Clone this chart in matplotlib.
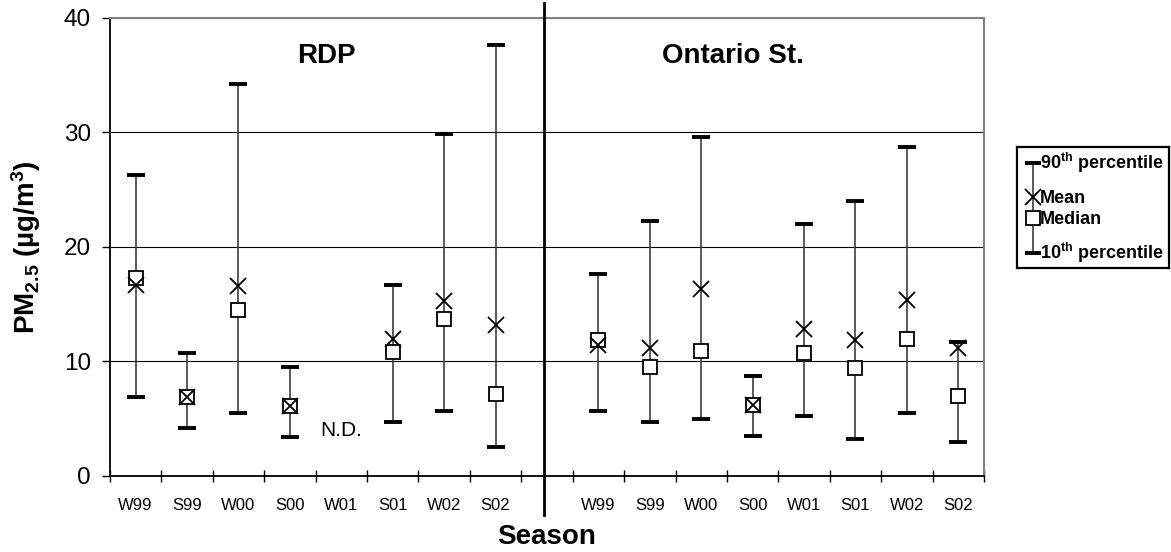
import numpy as np
import matplotlib.pyplot as plt

plt.rcParams['font.family'] = ['Liberation Sans', 'DejaVu Sans']
plt.rcParams['mathtext.fontset'] = 'custom'
plt.rcParams['mathtext.rm'] = 'Liberation Sans:bold'
plt.rcParams['mathtext.default'] = 'rm'

# Seasons (same for both sites)
seasons = ['W99', 'S99', 'W00', 'S00', 'W01', 'S01', 'W02', 'S02']

# RDP site (W01 = no data)
rdp_p90 = [26.3, 10.7, 34.2, 9.5, np.nan, 16.7, 29.9, 37.6]
rdp_p10 = [6.9, 4.2, 5.5, 3.4, np.nan, 4.7, 5.7, 2.5]
rdp_mean = [16.7, 6.9, 16.6, 6.1, np.nan, 12.0, 15.3, 13.2]
rdp_median = [17.3, 6.9, 14.5, 6.1, np.nan, 10.8, 13.7, 7.2]

# Ontario St. site
ont_p90 = [17.6, 22.3, 29.6, 8.7, 22.0, 24.0, 28.7, 11.7]
ont_p10 = [5.7, 4.7, 5.0, 3.5, 5.2, 3.2, 5.5, 3.0]
ont_mean = [11.4, 11.2, 16.3, 6.2, 12.8, 11.9, 15.4, 11.2]
ont_median = [11.9, 9.5, 10.9, 6.2, 10.7, 9.4, 12.0, 7.0]

nd_value = 4.0  # position of the "N.D." note

fig = plt.figure(figsize=(11.71, 5.52), dpi=100)
ax = fig.add_axes([0.0939, 0.1377, 0.7464, 0.8297])

n = len(seasons)
x_rdp = np.arange(n)
x_ont = np.arange(n) + n + 1
gap = n  # empty slot between the two sites


def draw_site(x, p10, p90, mean, median):
    ax.vlines(x, p10, p90, color='#404040', lw=1.2, zorder=3)
    ax.plot(x, p90, ls='none', marker='_', ms=12.5, mew=2.8, color='black', zorder=4)
    ax.plot(x, p10, ls='none', marker='_', ms=12.5, mew=2.8, color='black', zorder=4)
    ax.plot(x, median, ls='none', marker='s', ms=10, mfc='white', mec='black', mew=1.3, zorder=5)
    ax.plot(x, mean, ls='none', marker='x', ms=11, mec='black', mew=1.3, zorder=6)


draw_site(x_rdp, rdp_p10, rdp_p90, rdp_mean, rdp_median)
draw_site(x_ont, ont_p10, ont_p90, ont_mean, ont_median)

ax.set_xlim(-0.5, 2 * n + 0.5)
ax.set_ylim(0, 40)
ax.set_yticks([0, 10, 20, 30, 40])
ax.yaxis.grid(True, color='black', lw=0.8)
ax.set_axisbelow(True)

# boundaries as major ticks, labels on minor ticks at centres
ax.set_xticks(np.arange(-0.5, 2 * n + 1, 1.0))
ax.set_xticklabels([])
centres = list(x_rdp) + [gap] + list(x_ont)
ax.set_xticks(centres, minor=True)
ax.set_xticklabels(seasons + [''] + seasons, minor=True, fontsize=12)
ax.tick_params(axis='x', which='major', direction='inout', length=8.6, width=1)
ax.tick_params(axis='x', which='minor', length=0, pad=15.5)
ax.tick_params(axis='y', direction='out', length=5.8, width=1, labelsize=17.5, pad=8)

for side in ['top', 'right']:
    ax.spines[side].set_color('#808080')
    ax.spines[side].set_linewidth(1.5)
for side in ['left', 'bottom']:
    ax.spines[side].set_color('black')
    ax.spines[side].set_linewidth(1.3)

# divider between sites
ax.plot([gap - 0.05, gap - 0.05], [-0.085, 1.033], color='black', lw=2,
        transform=ax.get_xaxis_transform(), clip_on=False, zorder=7)

ax.text(3.72, 36.7, 'RDP', fontsize=20, fontweight='bold', ha='center', va='center')
ax.text(11.62, 36.7, 'Ontario St.', fontsize=20, fontweight='bold', ha='center', va='center')
ax.text(4, nd_value, 'N.D.', fontsize=15, ha='center', va='center')

ax.set_ylabel(r'PM$_{2.5}$ (µg/m$^{3}$)', fontsize=20, fontweight='bold')
ax.yaxis.set_label_coords(-0.077, 0.5)
ax.set_xlabel('Season', fontsize=20, fontweight='bold', va='top')
ax.xaxis.set_label_coords(0.5, -0.105)

# legend drawn as a small box of its own
lg = fig.add_axes([1017 / 1171, (552 - 268) / 552, 152 / 1171, 121 / 552])
lg.set_xlim(0, 152)
lg.set_ylim(121, 0)
lg.set_xticks([])
lg.set_yticks([])
for s in lg.spines.values():
    s.set_linewidth(1.6)
    s.set_color('black')
lg.plot([16, 16], [16, 106], color='#404040', lw=1.2)
lg.plot([16, 16], [16, 106], ls='none', marker='_', ms=11, mew=2.8, color='black')
lg.plot([16], [50], marker='x', ms=11, mec='black', mew=1.3)
lg.plot([16], [71], marker='s', ms=10, mfc='white', mec='black', mew=1.3)
txt = dict(fontsize=13, fontweight='bold', va='center', ha='left')
lg.text(23, 16, r'90$^{th}$ percentile', **txt)
lg.text(23, 51, 'Mean', **txt)
lg.text(23, 73, 'Median', **txt)
lg.text(23, 106, r'10$^{th}$ percentile', **txt)

fig.savefig('out.png', dpi=100)
